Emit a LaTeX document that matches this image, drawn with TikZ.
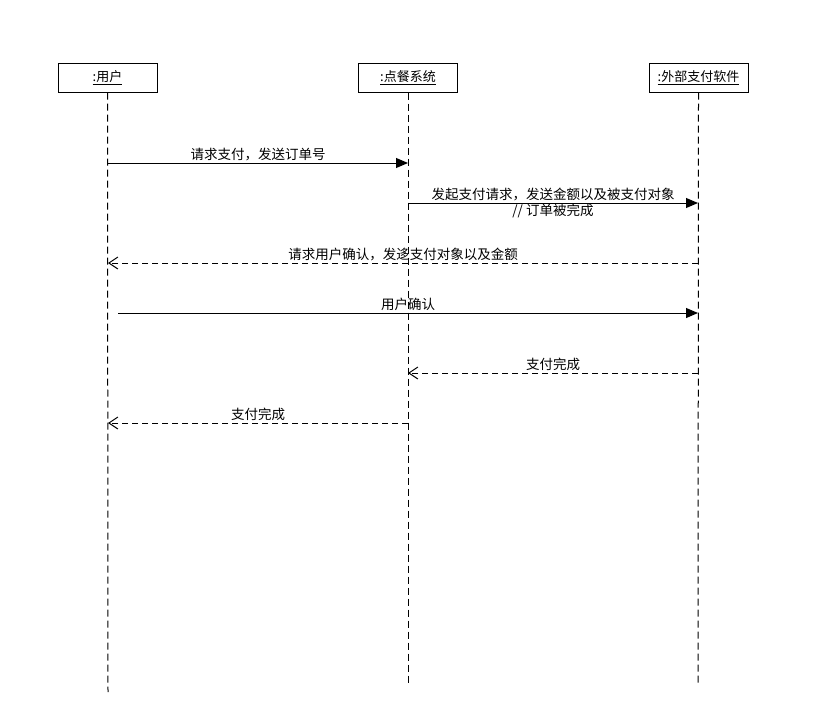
\documentclass[tikz,border=0pt]{standalone}
\usepackage{fontspec}
\setmainfont{Noto Sans CJK SC}
\usetikzlibrary{arrows.meta}
\begin{document}
\begin{tikzpicture}[x=1pt,y=-1pt,
  obj/.style={draw,line width=1pt,minimum width=99pt,minimum height=29pt,inner sep=0pt,font=\fontsize{13}{15}\selectfont},
  life/.style={line width=1pt,dash pattern=on 7pt off 4pt},
  sync/.style={line width=1pt,-{Triangle[length=12pt,width=10pt]}},
  ret/.style={line width=1pt,dash pattern=on 6pt off 4pt,-{Straight Barb[length=9pt,width=12pt,line width=1pt]}},
  lbl/.style={font=\fontsize{13.5}{15}\selectfont,inner sep=0.5pt}]
\useasboundingbox (0,0) rectangle (826,712);
\node[obj] (u) at (107.5,77.5) {\underline{:用户}};
\node[obj] (s) at (408,77.5) {\underline{:点餐系统}};
\node[obj] (p) at (698.5,77.5) {\underline{:外部支付软件}};
\coordinate (ue) at (108,692);
\coordinate (se) at (408,684);
\coordinate (pe) at (698,684);
\draw[life] (u.south) -- (ue);
\draw[life] (s.south) -- (se);
\draw[life] (p.south) -- (pe);
% messages
\coordinate (m1a) at (108,163); \coordinate (m1b) at (408,163);
\draw[sync] (m1a) -- node[lbl,above=1pt] {请求支付，发送订单号} (m1b);
\coordinate (m2a) at (408,203); \coordinate (m2b) at (698,203);
\draw[sync] (m2a) -- node[lbl,above=1pt] {发起支付请求，发送金额以及被支付对象} node[lbl,below=0pt] {// 订单被完成} (m2b);
\coordinate (m3a) at (698,263); \coordinate (m3b) at (108,263);
\draw[ret] (m3a) -- node[lbl,above=1pt] {请求用户确认，发迻支付对象以及金额} (m3b);
\coordinate (m4a) at (118,313); \coordinate (m4b) at (698,313);
\draw[sync] (m4a) -- node[lbl,above=1pt] {用户确认} (m4b);
\coordinate (m5a) at (698,373); \coordinate (m5b) at (408,373);
\draw[ret] (m5a) -- node[lbl,above=1pt] {支付完成} (m5b);
\coordinate (m6a) at (408,423); \coordinate (m6b) at (108,423);
\draw[ret] (m6a) -- node[lbl,above=1pt] {支付完成} (m6b);
\end{tikzpicture}
\end{document}
